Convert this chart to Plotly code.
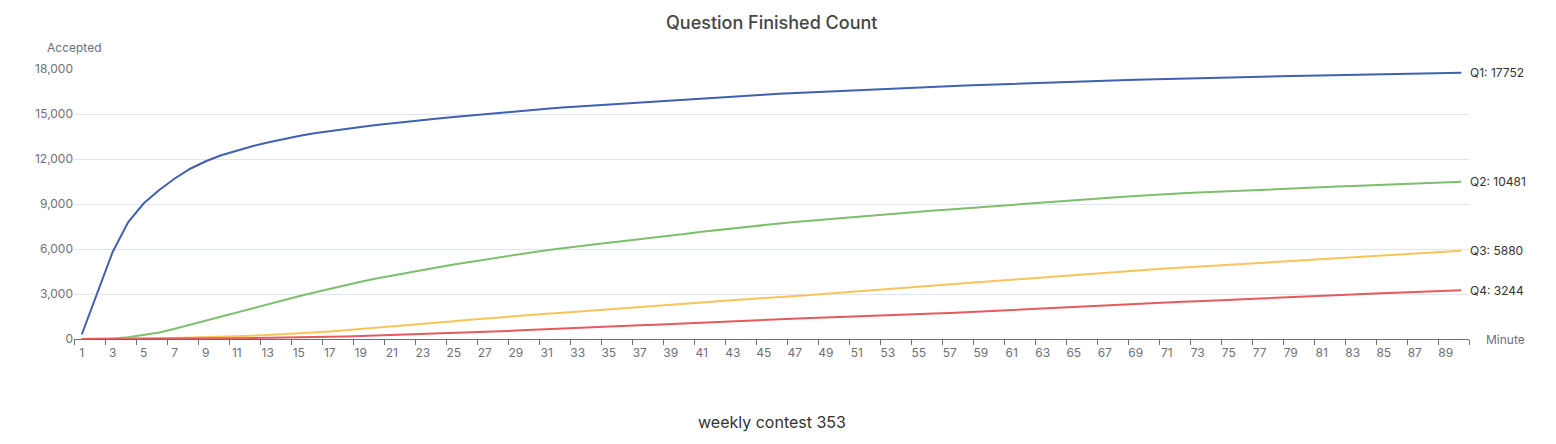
import plotly.graph_objects as go

minutes = list(range(1, 91))

q1 = [300, 3000, 5820, 7800, 9050, 9930, 10700, 11350, 11850, 12250,
      12560, 12850, 13100, 13330, 13530, 13710, 13870, 14010, 14140, 14260,
      14380, 14490, 14600, 14700, 14800, 14900, 15000, 15090, 15180, 15270,
      15350, 15430, 15500, 15570, 15640, 15710, 15780, 15850, 15920, 15990,
      16050, 16110, 16170, 16230, 16290, 16350, 16400, 16450, 16500, 16550,
      16600, 16650, 16700, 16740, 16780, 16820, 16860, 16900, 16940, 16980,
      17020, 17050, 17090, 17120, 17160, 17190, 17220, 17250, 17280, 17310,
      17340, 17370, 17400, 17420, 17440, 17470, 17490, 17510, 17530, 17550,
      17570, 17590, 17610, 17630, 17660, 17680, 17700, 17720, 17735, 17752]

q2 = [0, 5, 30, 110, 250, 430, 680, 950, 1230, 1520,
      1800, 2080, 2350, 2600, 2850, 3100, 3350, 3600, 3820, 4030,
      4230, 4430, 4610, 4790, 4960, 5130, 5290, 5450, 5610, 5770,
      5920, 6060, 6190, 6300, 6420, 6530, 6640, 6760, 6890, 7020,
      7150, 7270, 7390, 7500, 7600, 7700, 7800, 7890, 7980, 8070,
      8160, 8240, 8320, 8400, 8480, 8560, 8640, 8720, 8800, 8880,
      8960, 9040, 9120, 9190, 9260, 9330, 9400, 9470, 9540, 9610,
      9660, 9710, 9760, 9810, 9860, 9910, 9960, 10000, 10040, 10080,
      10120, 10160, 10200, 10240, 10280, 10320, 10360, 10400, 10440, 10481]

q3 = [0, 0, 5, 15, 30, 45, 65, 90, 115, 145,
      180, 220, 270, 320, 380, 440, 500, 580, 660, 740,
      830, 920, 1010, 1100, 1190, 1280, 1370, 1450, 1530, 1610,
      1680, 1750, 1820, 1890, 1970, 2050, 2120, 2190, 2270, 2350,
      2430, 2510, 2590, 2660, 2730, 2800, 2870, 2940, 3010, 3080,
      3160, 3240, 3320, 3400, 3480, 3560, 3640, 3720, 3800, 3870,
      3940, 4010, 4080, 4160, 4240, 4320, 4400, 4480, 4560, 4640,
      4700, 4760, 4820, 4890, 4960, 5030, 5100, 5160, 5220, 5280,
      5340, 5400, 5460, 5520, 5580, 5640, 5700, 5760, 5820, 5880]

q4 = [0, 0, 2, 5, 10, 15, 20, 28, 36, 45,
      55, 65, 80, 95, 110, 125, 145, 165, 195, 225,
      260, 300, 330, 360, 390, 420, 460, 510, 560, 610,
      660, 710, 760, 810, 850, 880, 910, 950, 1000, 1050,
      1100, 1150, 1200, 1240, 1280, 1320, 1360, 1400, 1440, 1470,
      1500, 1540, 1580, 1620, 1660, 1700, 1740, 1790, 1840, 1900,
      1960, 2020, 2080, 2130, 2170, 2210, 2250, 2290, 2340, 2390,
      2440, 2480, 2520, 2570, 2620, 2670, 2720, 2770, 2810, 2850,
      2890, 2930, 2970, 3010, 3050, 3090, 3130, 3170, 3210, 3244]

series_names = ["Q1", "Q2", "Q3", "Q4"]
series_values = [q1, q2, q3, q4]
colors = ["#4060b0", "#7dbf6c", "#f8c45a", "#e55a5e"]

x_tick_vals = list(range(1, 91, 2))
x_tick_text = [str(v) for v in x_tick_vals]
y_tick_vals = [0, 3000, 6000, 9000, 12000, 15000, 18000]
y_tick_text = ["0", "3,000", "6,000", "9,000", "12,000", "15,000", "18,000"]

FONT = "Inter, 'Noto Sans', sans-serif"
AXIS_GREY = "#6E7079"

fig = go.Figure()
for name, vals, col in zip(series_names, series_values, colors):
    fig.add_trace(go.Scatter(x=minutes, y=vals, mode="lines", name=name,
                             line=dict(color=col, width=2), showlegend=False))
    fig.add_annotation(x=minutes[-1], y=vals[-1], xref="x", yref="y",
                       text=f"{name}: {vals[-1]}", showarrow=False,
                       xanchor="left", yanchor="middle", xshift=7,
                       font=dict(family=FONT, size=12, color="#333333"))

fig.update_layout(
    width=1556, height=444,
    margin=dict(l=74, r=87, t=69, b=105),
    paper_bgcolor="white", plot_bgcolor="white",
    font=dict(family=FONT, size=12, color=AXIS_GREY),
)

fig.update_xaxes(
    range=[0.5, 90.5], tickmode="array", tickvals=x_tick_vals, ticktext=x_tick_text,
    ticks="", showgrid=False, zeroline=False,
    showline=True, linecolor=AXIS_GREY, linewidth=1,
    tickfont=dict(family=FONT, size=12, color=AXIS_GREY),
    ticklabelstandoff=3,
    minor=dict(ticks="outside", tick0=0.5, dtick=2, ticklen=5,
               tickcolor=AXIS_GREY, tickwidth=1, showgrid=False),
)
fig.update_yaxes(
    range=[0, 18000], tickmode="array", tickvals=y_tick_vals, ticktext=y_tick_text,
    showgrid=True, gridcolor="#E0E6F1", gridwidth=1, zeroline=False,
    showline=False, ticks="",
    tickfont=dict(family=FONT, size=12, color=AXIS_GREY),
)

fig.add_annotation(text="Question Finished Count", xref="paper", yref="paper",
                   x=0.5, y=1, yshift=47, xanchor="center", yanchor="middle",
                   showarrow=False,
                   font=dict(family=FONT, size=18, color="#464646", weight=500))
fig.add_annotation(text="weekly contest 353", xref="paper", yref="paper",
                   x=0.5, y=0, yshift=-83, xanchor="center", yanchor="middle",
                   showarrow=False,
                   font=dict(family=FONT, size=16, color="#333333"))
fig.add_annotation(text="Accepted", xref="paper", yref="paper",
                   x=0, y=1, yshift=22, xanchor="center", yanchor="middle",
                   showarrow=False,
                   font=dict(family=FONT, size=12, color=AXIS_GREY))
fig.add_annotation(text="Minute", xref="paper", yref="paper",
                   x=1, y=0, xshift=15, xanchor="left", yanchor="middle",
                   showarrow=False,
                   font=dict(family=FONT, size=12, color=AXIS_GREY))

fig.write_html("out.html")
